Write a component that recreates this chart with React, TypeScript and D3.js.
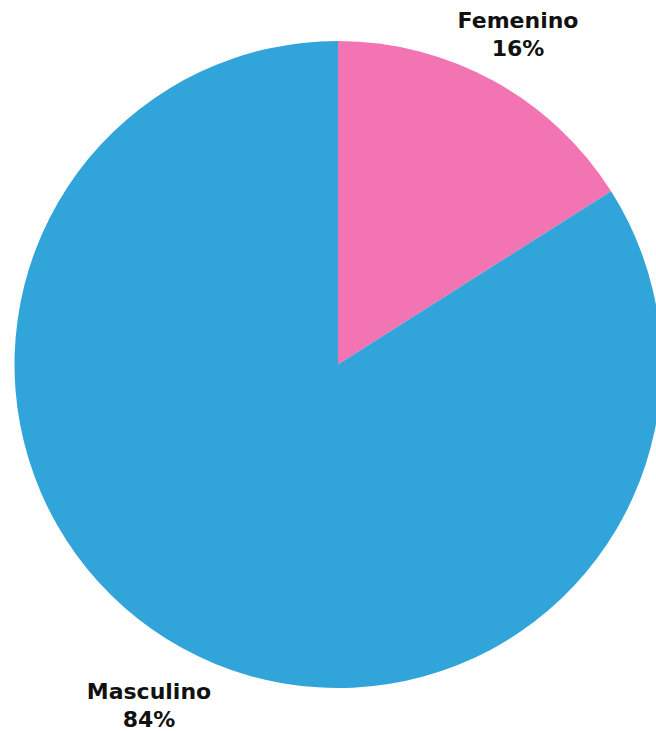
import React, { useRef, useEffect } from "react"
import * as d3 from "d3"

// data
const categories = ["Femenino", "Masculino"]
const values = [16, 84]
const colors = ["#F274B2", "#31A4D9"]

const width = 656
const height = 731

const App = () => {
  const ref = useRef<SVGSVGElement>(null)

  useEffect(() => {
    if (!ref.current) return
    const svg = d3.select(ref.current)
    svg.selectAll("*").remove()

    const cx = 338
    const cy = 364.5
    const radius = 323.5

    const data = categories.map((c, i) => ({ name: c, value: values[i], color: colors[i] }))

    const pie = d3
      .pie<{ name: string; value: number; color: string }>()
      .value(d => d.value)
      .sort(null)

    const arc = d3.arc<d3.PieArcDatum<any>>().innerRadius(0).outerRadius(radius)
    // labels sit just outside the pie, along each slice's middle angle
    const labelArc = d3.arc<d3.PieArcDatum<any>>().innerRadius(383).outerRadius(383)

    const g = svg.append("g").attr("transform", `translate(${cx},${cy})`)
    const arcs = pie(data)

    g.selectAll("path")
      .data(arcs)
      .join("path")
      .attr("d", arc as any)
      .attr("fill", d => d.data.color)

    const labels = g
      .selectAll("text")
      .data(arcs)
      .join("text")
      .attr("text-anchor", "middle")
      .attr("font-family", "'DejaVu Sans', sans-serif")
      .attr("font-weight", "bold")
      .attr("font-size", 22)
      .attr("fill", "#111")
      .attr("transform", d => {
        const [x, y] = labelArc.centroid(d)
        return `translate(${x - 4.5},${y - 1})`
      })

    labels.append("tspan").attr("x", 0).attr("y", 0).text(d => d.data.name)
    labels
      .append("tspan")
      .attr("x", 0)
      .attr("y", 28)
      .text(d => `${d.data.value}%`)
  }, [])

  return (
    <svg
      ref={ref}
      width={width}
      height={height}
      style={{ position: "absolute", left: 0, top: 0, background: "#fff" }}
    />
  )
}

export default App
